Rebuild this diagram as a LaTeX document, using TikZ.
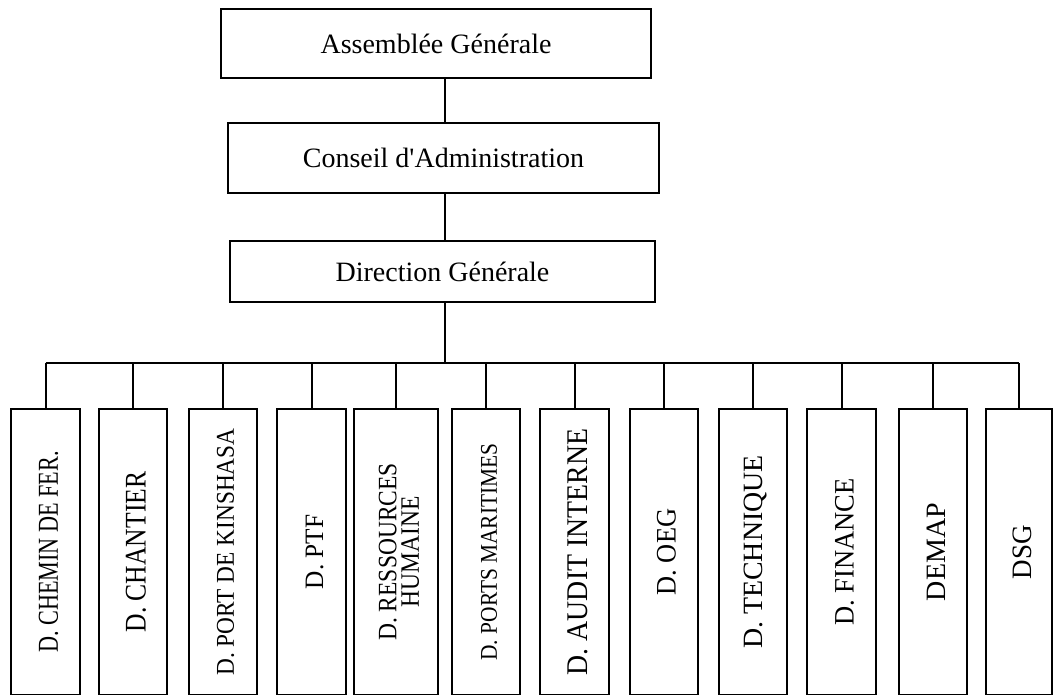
\documentclass[tikz,border=0pt]{standalone}
\usepackage{fontspec}
\usepackage{graphicx}
\setmainfont{Liberation Serif}
\usetikzlibrary{positioning}
\font\rawserif="Liberation Serif" at 28pt
\newcommand{\vtext}[2][1]{\hspace{6pt}\rotatebox{90}{\scalebox{1}[#1]{\shortstack{#2}}}}

\begin{document}
\begin{tikzpicture}[x=1pt, y=-1pt]
    % Define styles
    \tikzset{
        box/.style={rectangle, draw=black, line width=2pt, inner sep=0pt, align=center},
        head/.style={box, font=\fontsize{28}{32}\selectfont},
        dept/.style={box, minimum width=68pt, minimum height=286pt, font=\fontsize{27}{22}\selectfont},
        wire/.style={line width=2pt}
    }
    \useasboundingbox (0,0) rectangle (1053,694);

    % Upper levels
    \node[head, minimum width=430pt, minimum height=69pt] (ag) at (436,43.5) {Assemblée Générale};
    \node[head, minimum width=431pt, minimum height=70pt] (ca) at (443.5,158) {Conseil d{\rawserif'}Administration};
    \node[head, minimum width=425pt, minimum height=61pt] (dg) at (442.5,271.5) {Direction Générale};
    \coordinate (bus) at (444.5,363);

    % Directions
    \node[dept, minimum width=69pt, font=\fontsize{22.2}{22}\selectfont] (d1) at (45.5,552) {\vtext[1.3]{D. CHEMIN DE FER.}};
    \node[dept, font=\fontsize{25.6}{22}\selectfont] (d2) at (133,552) {\vtext[1.17]{D. CHANTIER}};
    \node[dept, font=\fontsize{23.3}{22}\selectfont] (d3) at (222.5,552) {\vtext[1.1]{D. PORT DE KINSHASA}};
    \node[dept, minimum width=69pt, font=\fontsize{25.3}{22}\selectfont] (d4) at (311.5,552) {\vtext[1.05]{D. PTF}};
    \node[dept, minimum width=84pt, font=\fontsize{23.5}{20}\selectfont] (d5) at (396,552) {\vtext[1.13]{D. RESSOURCES\\[1pt]HUMAINE}};
    \node[dept, font=\fontsize{21.4}{22}\selectfont] (d6) at (486,552) {\vtext[1.12]{D. PORTS MARITIMES}};
    \node[dept, minimum width=69pt, font=\fontsize{27.8}{22}\selectfont] (d7) at (574.5,552) {\vtext[1.08]{D. AUDIT INTERNE}};
    \node[dept, font=\fontsize{26.4}{22}\selectfont] (d8) at (663.5,552) {\vtext[1.07]{D. OEG}};
    \node[dept, font=\fontsize{27.9}{22}\selectfont] (d9) at (753,552) {\vtext{D. TECHNIQUE}};
    \node[dept, minimum width=69pt, font=\fontsize{26.5}{22}\selectfont] (d10) at (841.5,552) {\vtext[1.06]{D. FINANCE}};
    \node[dept, font=\fontsize{28}{22}\selectfont] (d11) at (933,552) {\vtext{DEMAP}};
    \node[dept, minimum width=66pt] (d12) at (1019,552) {\vtext[1.04]{DSG}};

    % Lines
    \draw[wire] (ag.south -| bus) -- (ca.north -| bus);
    \draw[wire] (ca.south -| bus) -- (dg.north -| bus);
    \draw[wire] (dg.south -| bus) -- (bus);
    \draw[wire] (d1.north |- bus) -- (d12.north |- bus);
    \foreach \i in {1,...,12}
        \draw[wire] (d\i.north |- bus) -- (d\i.north);
\end{tikzpicture}
\end{document}
